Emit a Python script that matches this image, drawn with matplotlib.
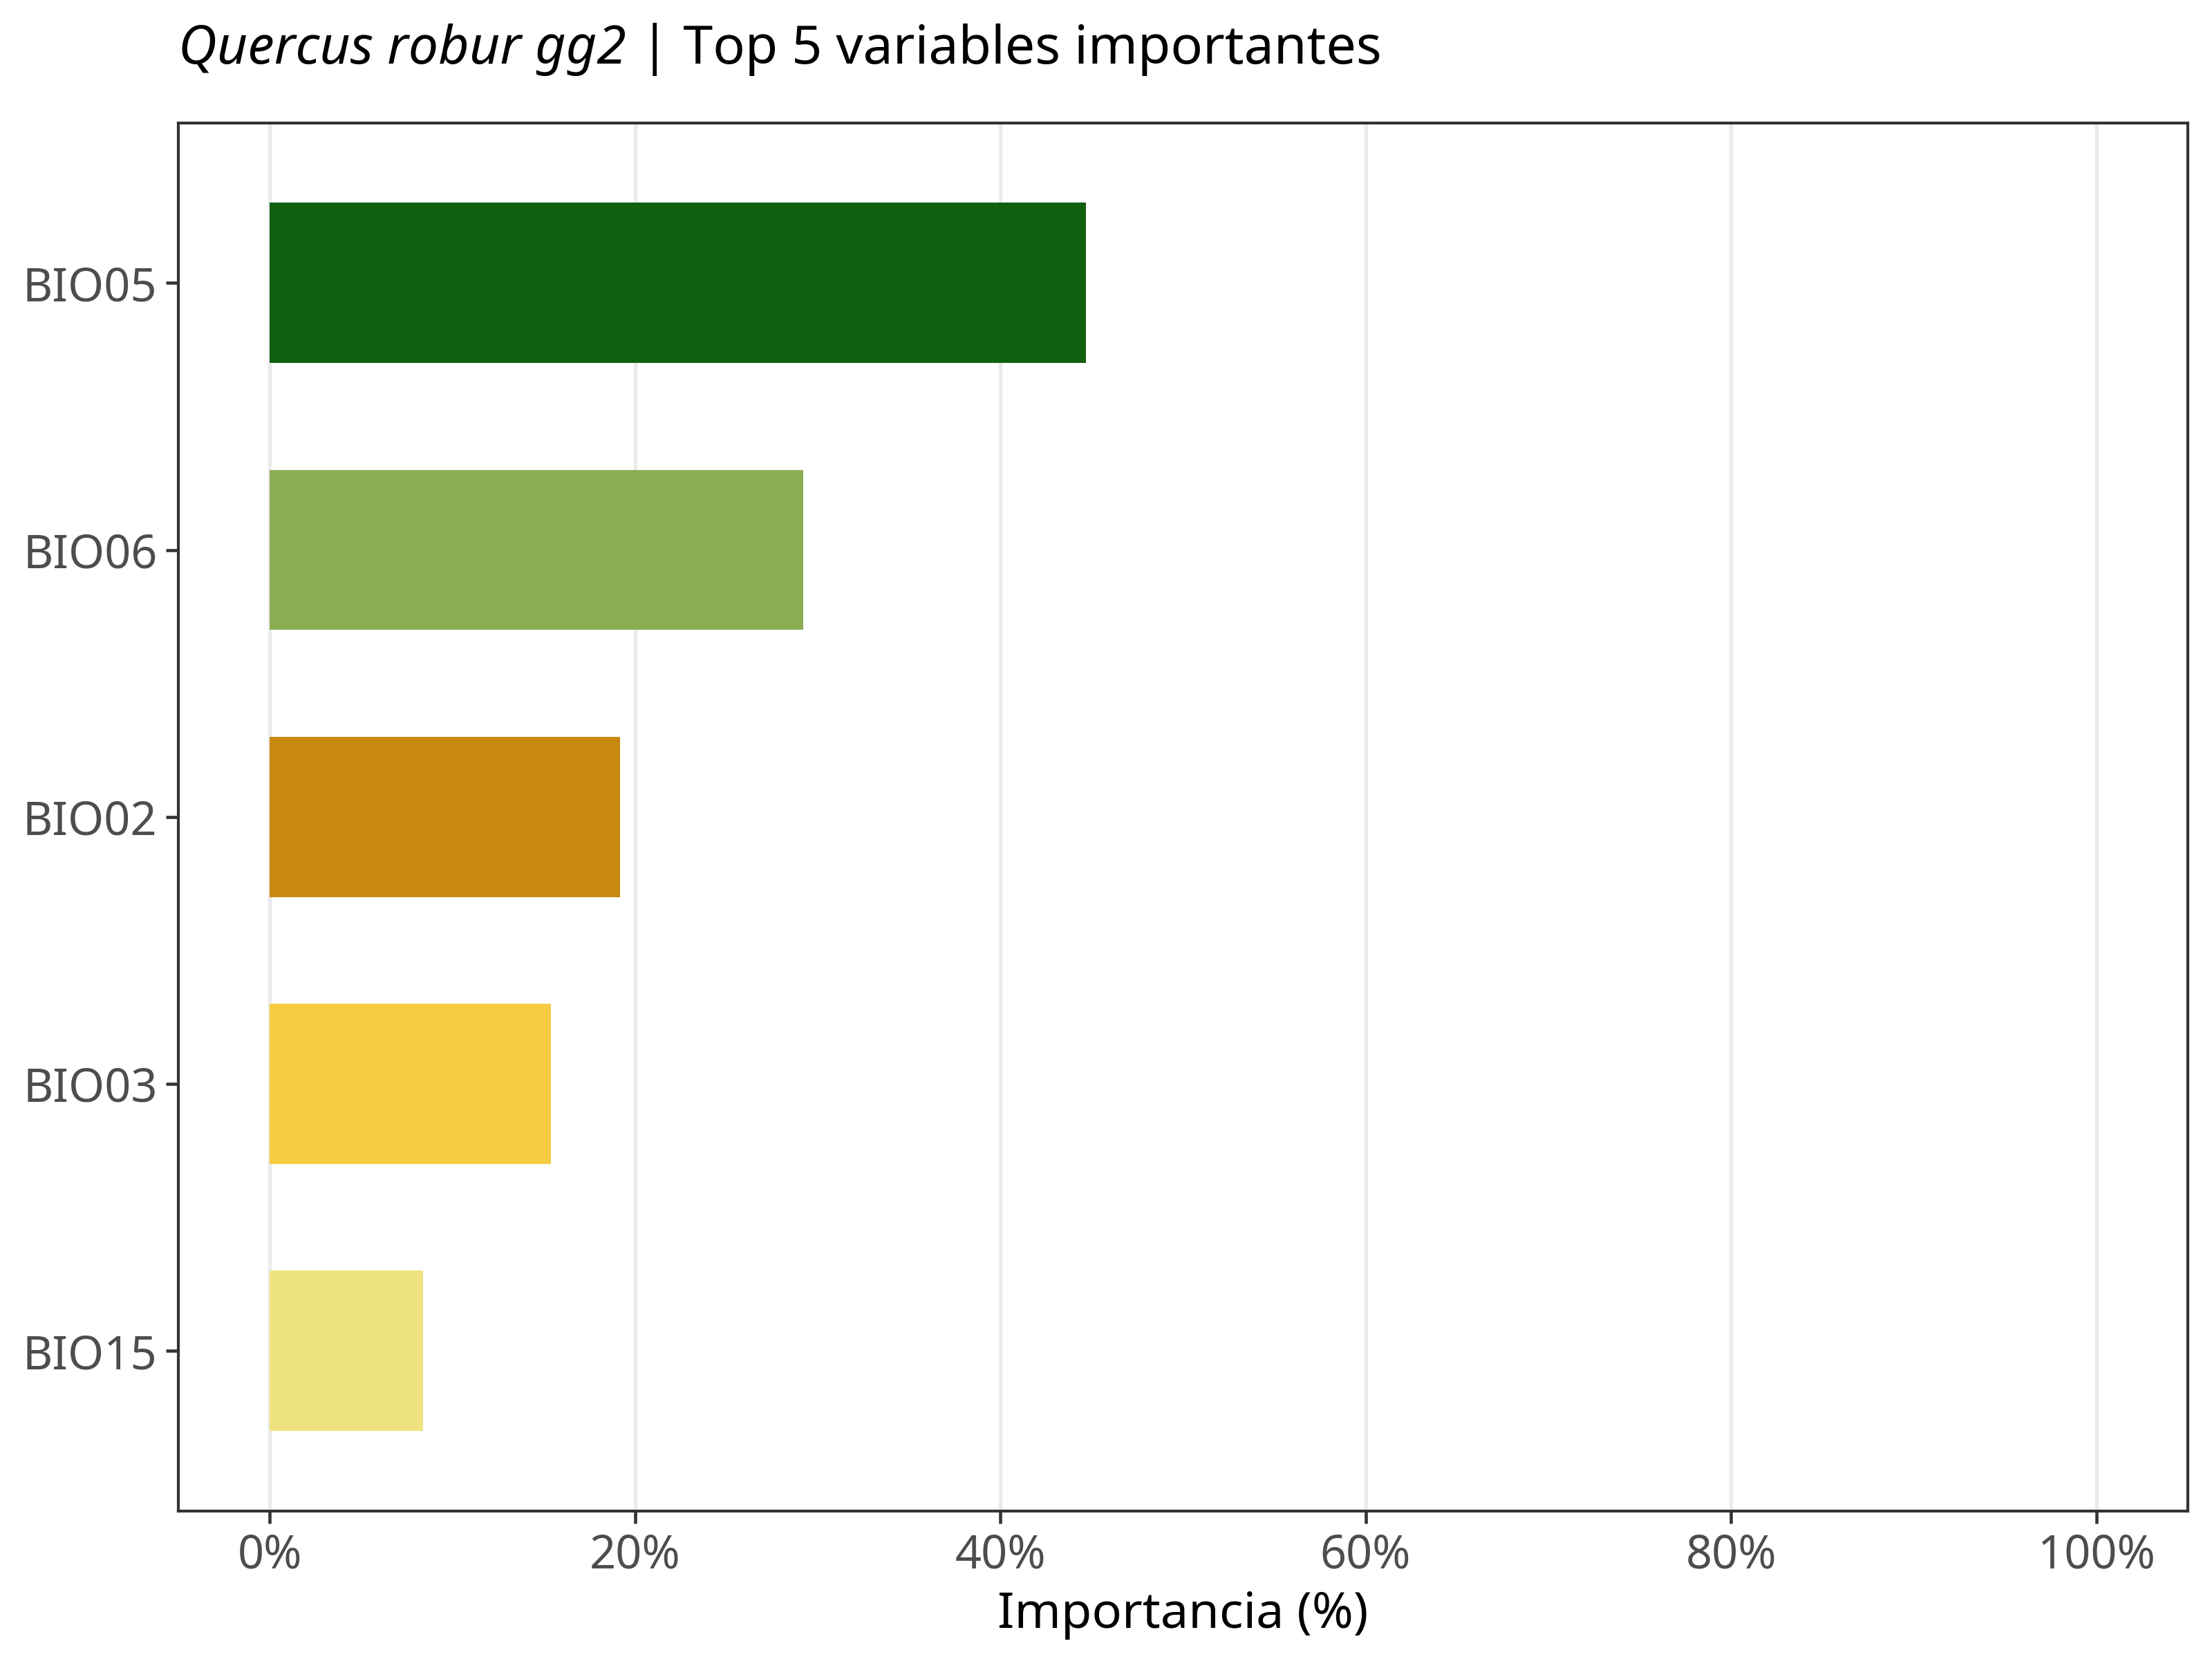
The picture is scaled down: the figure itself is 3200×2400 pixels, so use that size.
import matplotlib
matplotlib.use("Agg")
import matplotlib.pyplot as plt
from matplotlib.ticker import FuncFormatter

plt.rcParams['font.family'] = ['Noto Sans', 'DejaVu Sans']

variables = ["BIO05", "BIO06", "BIO02", "BIO03", "BIO15"]
importance = [44.7, 29.2, 19.2, 15.4, 8.4]
colors = ["#11600F", "#8AAD53", "#C78A0E", "#F6CC44", "#EEE37F"]
x_ticks = [0, 20, 40, 60, 80, 100]

fig = plt.figure(figsize=(3200/300, 2400/300), dpi=300)
ax = fig.add_axes([0.0806, 0.0892, 0.989 - 0.0806, 0.926 - 0.0892])

n = len(variables)
ypos = [n - i for i in range(n)]
ax.barh(ypos, importance, height=0.6, color=colors, zorder=3)

ax.set_xlim(-5, 105)
ax.set_ylim(0.4, n + 0.6)
ax.set_yticks(ypos)
ax.set_yticklabels(variables)
ax.set_xticks(x_ticks)
ax.xaxis.set_major_formatter(FuncFormatter(lambda v, p: f"{v:.0f}%"))

ax.grid(axis='x', color='#EBEBEB', linewidth=1.3, zorder=0)
ax.set_axisbelow(True)
for s in ax.spines.values():
    s.set_color('#333333')
    s.set_linewidth(1.0)
ax.tick_params(axis='both', colors='#333333', length=4.3, width=1.1,
               labelcolor='#4D4D4D', labelsize=16, pad=3)

ax.set_xlabel("Importancia (%)", fontsize=17.3, color='black', labelpad=4)

fig.canvas.draw()
r = fig.canvas.get_renderer()
ty = 0.9617
t1 = fig.text(0.0806, ty, "Quercus robur gg2", fontsize=18.5, style='italic',
              va='baseline', ha='left', color='black')
bb = t1.get_window_extent(renderer=r)
x2 = fig.transFigure.inverted().transform((bb.x1, 0))[0]
fig.text(x2, ty, " | Top 5 variables importantes", fontsize=18.5,
         va='baseline', ha='left', color='black')

fig.savefig("out.png", dpi=300, facecolor='white')
